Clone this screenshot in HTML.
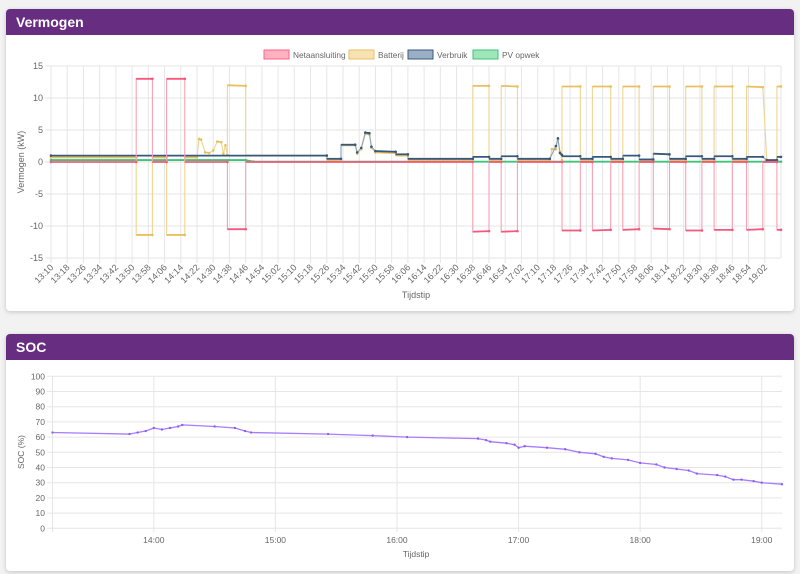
<!DOCTYPE html>
<html><head><meta charset="utf-8">
<style>
body{margin:0;width:800px;height:574px;background:#f2f2f2;font-family:"Liberation Sans",sans-serif;overflow:hidden;position:relative}
.card{position:absolute;left:6px;width:788px;background:#fff;border-radius:4px;box-shadow:0 1px 4px rgba(0,0,0,.2);overflow:hidden}
.hdr{background:#672d81;color:#fff;font-weight:bold;font-size:14px;height:26px;line-height:26px;padding-left:10px}
svg{position:absolute;left:0;top:0}
</style></head><body>
<div class="card" style="top:9px;height:302px">
 <div class="hdr">Vermogen</div>
</div>
<div class="card" style="top:334px;height:237px">
 <div class="hdr">SOC</div>
</div>
<svg id="s" width="800" height="574"></svg>
<script>
// ---- Vermogen data (minutes since 13:10, kW) ----
const tickLabels=[];for(let m=0;m<=352;m+=8){const t=13*60+10+m;tickLabels.push(Math.floor(t/60)+':'+String(t%60).padStart(2,'0'));}
const netT=[0,42,42,50,50,57,57,66,66,87,87,96,96,208,208,216,216,222,222,230,230,252,252,261,261,267,267,276,276,282,282,290,290,297,297,305,305,313,313,321,321,327,327,336,336,343,343,351,351,358,358,360];
const netV=[0,0,13,13,0,0,13,13,0,0,-10.5,-10.5,0,0,-10.9,-10.8,0,0,-10.9,-10.8,0,0,-10.7,-10.7,0,0,-10.7,-10.6,0,0,-10.6,-10.5,0,0,-10.4,-10.5,0,0,-10.7,-10.7,0,0,-10.6,-10.6,0,0,-10.6,-10.5,0,0,-10.6,-10.6];
const batT=[0,42,42,50,50,57,57,66,66,72,73,74,76,78,80,82,84,85,86,87,87,96,96,136,136,143,143,150,151,153,155,157,158,160,170,170,176,176,208,208,216,216,222,222,230,230,246,247,249,250,251,252,252,261,261,267,267,276,276,282,282,290,290,297,297,305,305,313,313,321,321,327,327,336,336,343,343,351,353,358,358,360];
const batV=[0.7,0.7,-11.4,-11.4,0.7,0.7,-11.4,-11.4,0.7,0.7,3.6,3.5,1.5,1.4,1.8,3.2,3.1,1.3,2.6,1.1,12,11.9,1,1,0.3,0.3,2.6,2.6,1.3,2,4.4,4.3,2.2,1.5,1.4,1,1,0.3,0.3,11.9,11.9,0.3,0.3,11.9,11.8,0.3,0.3,2,2,3.5,1.6,0.3,11.8,11.8,0.3,0.3,11.8,11.8,0.3,0.3,11.8,11.8,0.3,0.3,11.8,11.8,0.3,0.3,11.8,11.8,0.3,0.3,11.8,11.8,0.3,0.3,11.8,11.7,0.3,0.3,11.8,11.8];
const verT=[0,136,136,143,143,150,151,153,155,157,158,160,170,170,176,176,208,208,216,216,222,222,230,230,246,249,250,251,252,252,261,261,267,267,276,276,282,282,290,290,297,297,305,305,313,313,321,321,327,327,336,336,343,343,351,353,358,358,360];
const verV=[1,1,0.5,0.5,2.7,2.7,1.5,2.2,4.6,4.5,2.4,1.7,1.6,1.2,1.2,0.5,0.5,0.8,0.8,0.5,0.5,0.9,0.9,0.5,0.5,2.5,3.7,1.4,1.1,0.9,0.9,0.5,0.5,0.8,0.8,0.5,0.5,1,1,0.4,0.4,1.3,1.2,0.5,0.5,0.9,0.9,0.5,0.5,0.9,0.9,0.5,0.5,0.8,0.8,0.3,0.3,0.8,0.8];
const pvT=[0,96,100,360];
const pvV=[0.3,0.3,0.05,0.05];
// ---- SOC data ----
const socT=[0,38,42,46,50,54,58,62,64,80,90,95,98,136,158,175,210,214,216,224,228,230,233,244,253,260,268,272,276,284,290,298,302,308,314,318,328,332,336,340,346,350,360];
const socV=[63,62,63,64,66,65,66,67,68,67,66,64,63,62,61,60,59,58,57,56,55,53,54,53,52,50,49,47,46,45,43,42,40,39,38,36,35,34,32,32,31,30,29];
const socTicks=[0,10,20,30,40,50,60,70,80,90,100];
const hourLabels=['14:00','15:00','16:00','17:00','18:00','19:00'];

const S=document.getElementById('s'),NS='http://www.w3.org/2000/svg';
function el(tag,a,txt){const e=document.createElementNS(NS,tag);for(const k in a)e.setAttribute(k,a[k]);if(txt!==undefined)e.textContent=txt;S.appendChild(e);return e;}
const X1=m=>51+m*730/360, Y1=v=>162-v*6.4;
for(let v=-15;v<=15;v+=5){const g=el('line',{x1:45,x2:781,y1:Y1(v),y2:Y1(v),stroke:v==0?'#ddd':'#e6e6e6'});
 const t=el('text',{x:43,y:Y1(v)+3,'text-anchor':'end','font-size':9,fill:'#666'},String(v));}
tickLabels.forEach((l,i)=>{const x=X1(i*8);const g=el('line',{x1:x,x2:x,y1:66,y2:263,stroke:'#e6e6e6'});
 const t=el('text',{x:x+3,y:268,'text-anchor':'end','font-size':9,fill:'#666',transform:`rotate(-45 ${x+3} 268)`},l);});
el('line',{x1:781,x2:781,y1:66,y2:258,stroke:'#e6e6e6'});
let t=el('text',{x:24,y:162,'text-anchor':'middle','font-size':9,fill:'#666',transform:'rotate(-90 24 162)'},'Vermogen (kW)');
t=el('text',{x:416,y:298,'text-anchor':'middle','font-size':9,fill:'#666'},'Tijdstip');
function series(T,V,X,Y,col,fill,name){const p=T.map((m,i)=>X(m).toFixed(1)+','+Y(V[i]).toFixed(1)).join(' ');
 const l=el('polyline',{points:p,fill:'none',stroke:fill,'stroke-width':1.1});
 T.forEach((m,i)=>{if(i>0&&T[i]==T[i-1])return;const c=el('circle',{cx:X(m),cy:Y(V[i]),r:1.3,fill:col});});
 for(let i=1;i<T.length;i++){if(Math.abs(V[i]-V[i-1])>0.3)continue;const s=el('line',{x1:X(T[i-1]),x2:X(T[i]),y1:Y(V[i-1]),y2:Y(V[i]),stroke:col,'stroke-width':1.8});}}
series(pvT,pvV,X1,Y1,'#3fc37a','#8fe0b0','pv');
series(batT,batV,X1,Y1,'#e8c060','#f0d590','batterij');
series(verT,verV,X1,Y1,'#35597c','#8aa3bb','verbruik');
series(netT,netV,X1,Y1,'#f5587e','#f9a0b4','net');
[['Netaansluiting',264,'#ffb1c1','#ff6384'],['Batterij',349,'#f6e2b3','#e8c060'],['Verbruik',408,'#9aafc4','#35597c'],['PV opwek',473,'#9fe6bb','#3fc37a']].forEach(([n,x,f,s])=>{
 const r=el('rect',{x:x,y:50,width:25,height:9,fill:f,stroke:s,'stroke-width':1});
 const tt=el('text',{x:x+29,y:58,'font-size':8.3,fill:'#666'},n);});
const X2=m=>52.5+m*729.5/360, Y2=v=>528.3-v*1.52;
socTicks.forEach(v=>{const g=el('line',{x1:47,x2:782,y1:Y2(v),y2:Y2(v),stroke:'#e6e6e6'});
 const tt=el('text',{x:45,y:Y2(v)+3,'text-anchor':'end','font-size':8.5,fill:'#666'},String(v));});
el('line',{x1:52.5,x2:52.5,y1:376,y2:532,stroke:'#e6e6e6'});
hourLabels.forEach((l,i)=>{const x=X2(50+i*60);const g=el('line',{x1:x,x2:x,y1:376,y2:532,stroke:'#e6e6e6'});
 const tt=el('text',{x:x,y:543,'text-anchor':'middle','font-size':8.5,fill:'#666'},l);});
t=el('text',{x:24,y:452,'text-anchor':'middle','font-size':8.5,fill:'#666',transform:'rotate(-90 24 452)'},'SOC (%)');
t=el('text',{x:416,y:557,'text-anchor':'middle','font-size':8.5,fill:'#666'},'Tijdstip');
const sp=socT.map((m,i)=>X2(m).toFixed(1)+','+Y2(socV[i]).toFixed(1)).join(' ');
const sl=el('polyline',{points:sp,fill:'none',stroke:'#a77cff','stroke-width':1.3});
socT.forEach((m,i)=>{const c=el('circle',{cx:X2(m),cy:Y2(socV[i]),r:1.2,fill:'#8f5cf5'});});
</script>
</body></html>
